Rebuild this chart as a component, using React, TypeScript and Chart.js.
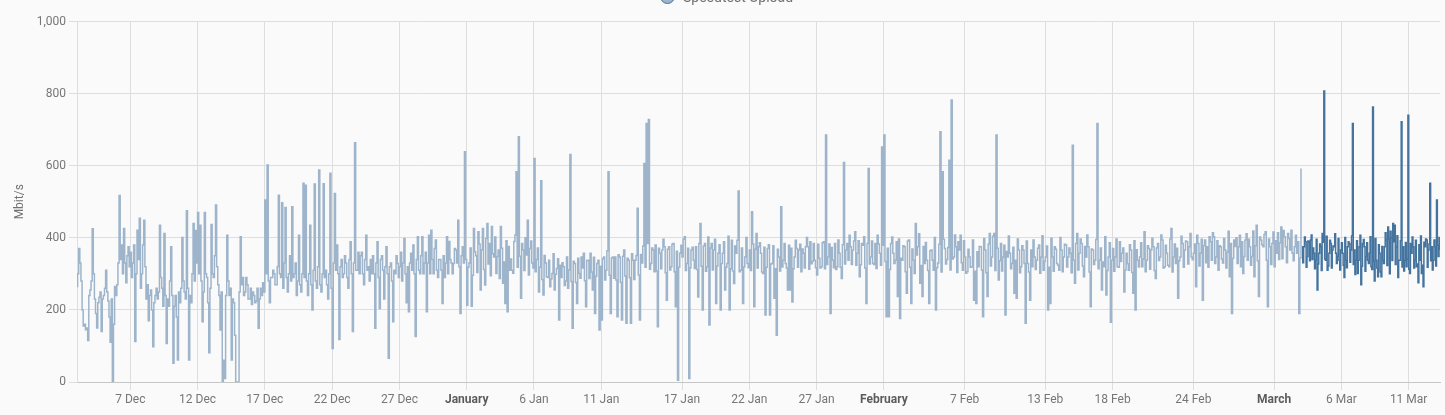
import React, { useEffect, useRef } from "react";
import { Chart, registerables } from "chart.js";

Chart.register(...registerables);

// x values are days since 1 Dec 2023 00:00 (day 31 = 1 Jan, 62 = 1 Feb, 91 = 1 Mar 2024)
const X_MIN = 2.04;
const X_MAX = 103.33;

// Long-term statistics (lighter line), one value every 2 hours, starting 3 Dec 00:00
const STATS_START_DAY = 2;
const STATS_PER_DAY = 12;

const DEC_UPLOAD = [
  265, 300, 370, 330, 280, 200, 155, 160, 145, 150, 115, 240,
  255, 280, 425, 300, 230, 190, 150, 220, 235, 250, 140, 230,
  240, 260, 310, 250, 225, 180, 110, 230, 0, 160, 265, 240,
  270, 330, 517, 340, 380, 300, 426, 330, 275, 350, 375, 320,
  360, 290, 330, 380, 112, 300, 421, 340, 454, 260, 300, 380,
  449, 320, 230, 270, 170, 240, 255, 200, 98, 220, 240, 260,
  230, 250, 435, 290, 260, 210, 412, 240, 107, 230, 210, 280,
  375, 240, 52, 210, 240, 180, 61, 250, 220, 260, 401, 280,
  250, 230, 475, 260, 61, 240, 220, 300, 440, 280, 420, 330,
  470, 300, 435, 280, 167, 250, 470, 300, 290, 220, 81, 260,
  437, 300, 290, 350, 491, 320, 270, 240, 144, 250, 0, 60,
  10, 240, 407, 280, 240, 260, 61, 230, 220, 130, 0, 0,
  0, 250, 403, 270, 290, 240, 250, 290, 270, 230, 230, 260,
  215, 250, 240, 220, 225, 260, 149, 230, 260, 240, 275, 250,
  505, 300, 602, 280, 220, 290, 290, 310, 300, 270, 270, 320,
  518, 300, 290, 497, 260, 330, 484, 290, 250, 300, 350, 280,
  486, 290, 300, 330, 240, 280, 407, 270, 250, 300, 551, 290,
  546, 280, 240, 300, 435, 270, 200, 310, 549, 280, 260, 320,
  588, 270, 250, 300, 550, 290, 310, 270, 230, 300, 579, 260,
  93, 330, 523, 310, 380, 300, 118, 320, 340, 290, 300, 350,
  330, 290, 260, 340, 389, 300, 140, 330, 664, 310, 310, 360,
  300, 350, 360, 300, 270, 340, 407, 310, 320, 280, 340, 300,
  350, 300, 149, 330, 389, 290, 204, 340, 350, 310, 230, 320,
  375, 300, 66, 320, 330, 280, 167, 310, 300, 350, 329, 290,
  320, 360, 280, 330, 398, 300, 220, 320, 195, 330, 357, 310,
  380, 300, 126, 340, 403, 310, 300, 350, 403, 300, 330, 360,
  195, 330, 407, 300, 421, 340, 300, 370, 394, 310, 290, 340,
  340, 310, 218, 350, 290, 330, 403, 300, 390, 340, 330, 300,
  329, 370, 366, 330, 449, 320, 190, 350, 375, 330, 639, 340,
];

const JAN_UPLOAD = [
  213, 318, 330, 372, 210, 296, 426, 361, 350, 304, 417, 383,
  255, 367, 426, 312, 269, 398, 440, 327, 384, 295, 431, 356,
  347, 402, 301, 348, 366, 287, 431, 371, 274, 333, 218, 392,
  195, 376, 310, 341, 310, 302, 390, 408, 583, 318, 680, 349,
  232, 384, 366, 309, 400, 352, 449, 297, 370, 391, 330, 316,
  620, 306, 340, 372, 250, 318, 558, 284, 241, 351, 330, 292,
  290, 338, 264, 286, 301, 356, 255, 299, 315, 342, 172, 324,
  290, 331, 320, 268, 280, 347, 260, 311, 631, 279, 149, 335,
  329, 276, 218, 343, 301, 288, 347, 316, 357, 281, 209, 337,
  338, 287, 357, 305, 255, 346, 190, 293, 329, 338, 144, 321,
  172, 342, 347, 283, 310, 364, 583, 296, 190, 344, 347, 288,
  347, 283, 181, 353, 347, 277, 172, 349, 366, 294, 163, 343,
  338, 289, 163, 356, 338, 284, 338, 351, 482, 297, 172, 354,
  330, 377, 606, 318, 717, 384, 728, 313, 329, 372, 366, 306,
  380, 308, 153, 371, 357, 314, 366, 396, 375, 303, 227, 368,
  375, 311, 320, 382, 384, 306, 209, 363, 5, 318, 357, 379,
  347, 396, 403, 309, 329, 371, 10, 317, 366, 374, 338, 315,
  375, 312, 236, 384, 440, 321, 200, 377, 384, 307, 320, 402,
  158, 372, 384, 311, 366, 396, 218, 322, 357, 381, 200, 329,
  357, 389, 255, 318, 329, 404, 200, 314, 393, 308, 273, 377,
  357, 393, 530, 306, 310, 372, 218, 319, 347, 401, 329, 317,
  366, 309, 472, 383, 209, 368, 412, 316, 375, 386, 357, 305,
  301, 374, 186, 318, 370, 381, 186, 327, 329, 378, 232, 314,
  130, 368, 347, 308, 486, 319, 338, 384, 329, 316, 255, 379,
  255, 371, 222, 314, 347, 393, 370, 318, 366, 382, 306, 369,
  357, 316, 375, 401, 375, 313, 389, 328, 334, 384, 338, 317,
  297, 382, 343, 316, 320, 386, 389, 314, 685, 326, 347, 383,
  190, 373, 338, 317, 384, 312, 320, 394, 357, 318, 287, 381,
  609, 327, 366, 384, 338, 407, 375, 326, 366, 391, 417, 324,
  357, 392, 292, 325, 384, 379, 403, 316, 218, 384, 592, 327,
  347, 391, 329, 326, 384, 315, 407, 383, 357, 324, 652, 379,
];

const FEB_UPLOAD = [
  685, 334, 181, 371, 181, 312, 384, 402, 357, 329, 338, 389,
  237, 397, 176, 343, 338, 378, 375, 306, 246, 391, 394, 318,
  218, 369, 338, 301, 440, 352, 375, 411, 274, 323, 237, 376,
  329, 387, 338, 309, 218, 364, 366, 338, 310, 401, 200, 317,
  330, 382, 694, 305, 583, 396, 370, 327, 340, 373, 615, 311,
  782, 341, 347, 408, 375, 304, 389, 366, 407, 331, 310, 392,
  347, 302, 306, 368, 347, 318, 320, 394, 227, 307, 218, 361,
  320, 376, 375, 311, 181, 398, 366, 303, 237, 383, 412, 322,
  347, 404, 412, 309, 685, 371, 283, 336, 384, 308, 347, 379,
  186, 362, 347, 405, 357, 314, 329, 374, 246, 338, 232, 397,
  366, 303, 320, 378, 366, 329, 163, 391, 329, 305, 227, 366,
  320, 394, 347, 312, 338, 371, 380, 302, 347, 406, 310, 335,
  347, 377, 200, 318, 218, 399, 347, 307, 375, 368, 329, 324,
  310, 401, 366, 306, 347, 382, 380, 319, 347, 372, 357, 303,
  657, 338, 274, 384, 412, 311, 357, 397, 384, 322, 292, 376,
  347, 408, 375, 305, 209, 369, 366, 326, 338, 395, 717, 314,
  338, 372, 255, 333, 320, 403, 241, 309, 347, 386, 166, 338,
  370, 307, 347, 397, 320, 318, 389, 334, 357, 372, 250, 311,
  357, 328, 310, 381, 366, 304, 246, 392, 200, 367, 338, 319,
  347, 386, 320, 341, 417, 306, 338, 378, 370, 313, 366, 399,
  375, 309, 287, 372, 384, 337, 347, 408, 394, 316, 320, 379,
  357, 324, 320, 397, 426, 305, 347, 383, 329, 371, 232, 336,
  347, 404, 384, 318, 366, 391, 389, 327, 375, 412, 347, 339,
  357, 383, 264, 407, 384, 322, 357, 396, 227, 378, 394, 331,
  375, 318, 403, 389, 338, 414, 403, 329, 347, 392, 310, 378,
  375, 341, 330, 398, 366, 316, 360, 418, 292, 384, 190, 343,
  394, 376, 400, 329, 375, 407, 320, 389, 301, 348, 394, 411,
  338, 396, 375, 324, 348, 419, 292, 378, 435, 336, 237, 402,
  394, 381, 375, 409, 417, 338, 209, 397, 375, 326, 384, 416,
];

const MAR_UPLOAD = [
  320, 392, 357, 414, 340, 386, 430, 342, 420, 403, 375, 331,
  412, 398, 366, 421, 357, 336, 375, 407, 357, 389, 190, 344,
  592,
];

// Recorded states (darker line), one value every 1.5 hours from 3 Mar ~01:40
const RECENT_START_DAY = 93.07;
const RECENT_PER_DAY = 16;
const RECENT_UPLOAD = [
  375, 331, 375, 402, 389, 318, 348, 391, 389, 336, 394, 408, 340, 372, 357, 314,
  338, 396, 255, 327, 357, 383, 375, 309, 412, 388, 807, 341, 338, 404, 310, 322,
  357, 393, 384, 316, 366, 377, 375, 411, 357, 329, 348, 398, 338, 311, 366, 386,
  357, 324, 290, 401, 338, 317, 375, 389, 384, 332, 366, 405, 717, 326, 366, 298,
  338, 392, 301, 338, 375, 407, 270, 321, 384, 395, 375, 307, 348, 386, 338, 329,
  357, 403, 320, 312, 763, 334, 280, 398, 338, 316, 292, 381, 357, 305, 292, 376,
  338, 329, 375, 414, 394, 323, 430, 397, 300, 418, 400, 337, 440, 389, 435, 326,
  375, 406, 290, 338, 338, 392, 722, 319, 375, 308, 338, 387, 320, 341, 740, 313,
  301, 384, 357, 402, 375, 316, 338, 393, 320, 327, 275, 381, 338, 405, 301, 324,
  264, 388, 375, 397, 394, 318, 366, 383, 551, 336, 375, 311, 338, 394, 375, 322,
  505, 379, 348, 401, 366,
];

const TICK_DAYS = [6, 11, 16, 21, 26, 31, 36, 41, 47, 52, 57, 62, 68, 74, 79, 85, 91, 96, 101];
const TICK_LABELS = [
  "7 Dec", "12 Dec", "17 Dec", "22 Dec", "27 Dec", "January", "6 Jan", "11 Jan", "17 Jan",
  "22 Jan", "27 Jan", "February", "7 Feb", "13 Feb", "18 Feb", "24 Feb", "March", "6 Mar", "11 Mar",
];
const MAJOR_LABELS = ["January", "February", "March"];

const Y_TICKS = [0, 200, 400, 600, 800, 1000];
const SERIES_NAME = "Speedtest Upload";
const Y_TITLE = "Mbit/s";

const DARK = "#44739e";
const LIGHT = "#9db4cb";

function isMajor(value: number) {
  return MAJOR_LABELS.includes(TICK_LABELS[TICK_DAYS.indexOf(value)]);
}

export default function App() {
  const canvasRef = useRef<HTMLCanvasElement | null>(null);

  useEffect(() => {
    document.body.style.margin = "0";
    document.body.style.background = "#fafafa";
    const canvas = canvasRef.current;
    if (!canvas) return;

    const stats = [...DEC_UPLOAD, ...JAN_UPLOAD, ...FEB_UPLOAD, ...MAR_UPLOAD].map((y, i) => ({
      x: STATS_START_DAY + i / STATS_PER_DAY,
      y,
    }));
    const recent = RECENT_UPLOAD.map((y, i) => ({ x: RECENT_START_DAY + i / RECENT_PER_DAY, y }));

    const chart = new Chart(canvas, {
      type: "line",
      data: {
        datasets: [
          {
            label: SERIES_NAME,
            data: recent,
            borderColor: DARK,
            borderWidth: 1.5,
            pointRadius: 0,
            pointHoverRadius: 0,
            stepped: "before",
            fill: false,
          },
          {
            label: SERIES_NAME,
            data: stats,
            borderColor: LIGHT,
            borderWidth: 1.5,
            pointRadius: 0,
            pointHoverRadius: 0,
            stepped: "before",
            fill: false,
          },
        ],
      },
      options: {
        animation: false,
        responsive: true,
        maintainAspectRatio: false,
        parsing: false,
        normalized: true,
        events: [],
        layout: { padding: { left: 0, right: 5, top: 21.5, bottom: 0 } },
        plugins: {
          tooltip: { enabled: false },
          legend: { display: false },
        },
        scales: {
          x: {
            type: "linear",
            min: X_MIN,
            max: X_MAX,
            afterBuildTicks: (scale: any) => {
              scale.ticks = TICK_DAYS.map((v) => ({ value: v, major: isMajor(v) }));
            },
            afterFit: (scale: any) => {
              scale.height = 33;
            },
            ticks: {
              autoSkip: false,
              maxRotation: 0,
              minRotation: 0,
              padding: 3,
              font: (ctx: any) =>
                ({
                  family: "Roboto",
                  size: 12,
                  weight: ctx.tick && isMajor(ctx.tick.value) ? "bold" : "normal",
                }) as any,
              color: (ctx: any) => (ctx.tick && isMajor(ctx.tick.value) ? "#5c5c5c" : "#767676"),
              callback: (value: any) => {
                const idx = TICK_DAYS.indexOf(Number(value));
                return idx >= 0 ? TICK_LABELS[idx] : "";
              },
            },
            grid: { color: "#dedede", lineWidth: 1, tickLength: 8, drawTicks: true },
            border: { display: true, color: "#c6c6c6", width: 1 },
          },
          y: {
            type: "linear",
            min: 0,
            max: 1000,
            afterBuildTicks: (scale: any) => {
              scale.ticks = Y_TICKS.map((v) => ({ value: v }));
            },
            afterFit: (scale: any) => {
              scale.width = 77;
            },
            ticks: {
              padding: 3,
              color: "#767676",
              font: { family: "Roboto", size: 12 },
              callback: (value: any) => Number(value).toLocaleString("en-US"),
            },
            title: {
              display: true,
              text: Y_TITLE,
              color: "#727272",
              font: { family: "Roboto", size: 12 },
              padding: { top: 13, bottom: 0 },
            },
            grid: { color: "#dedede", lineWidth: 1, tickLength: 8, drawTicks: true },
            border: { display: true, color: "#dedede", width: 1 },
          },
        },
      },
    } as any);

    return () => chart.destroy();
  }, []);

  return (
    <div
      style={{
        position: "fixed",
        left: 0,
        top: 0,
        width: 1445,
        height: 415,
        background: "#fafafa",
        overflow: "hidden",
      }}
    >
      <canvas ref={canvasRef} />
      <div
        style={{
          position: "absolute",
          left: 660,
          top: -11,
          width: 13,
          height: 13,
          borderRadius: "50%",
          background: LIGHT,
          border: `1.5px solid ${DARK}`,
        }}
      />
      <div
        style={{
          position: "absolute",
          left: 683,
          top: -11.5,
          fontFamily: "Roboto",
          fontSize: 14,
          lineHeight: "16px",
          color: "#727272",
          whiteSpace: "nowrap",
        }}
      >
        {SERIES_NAME}
      </div>
    </div>
  );
}
